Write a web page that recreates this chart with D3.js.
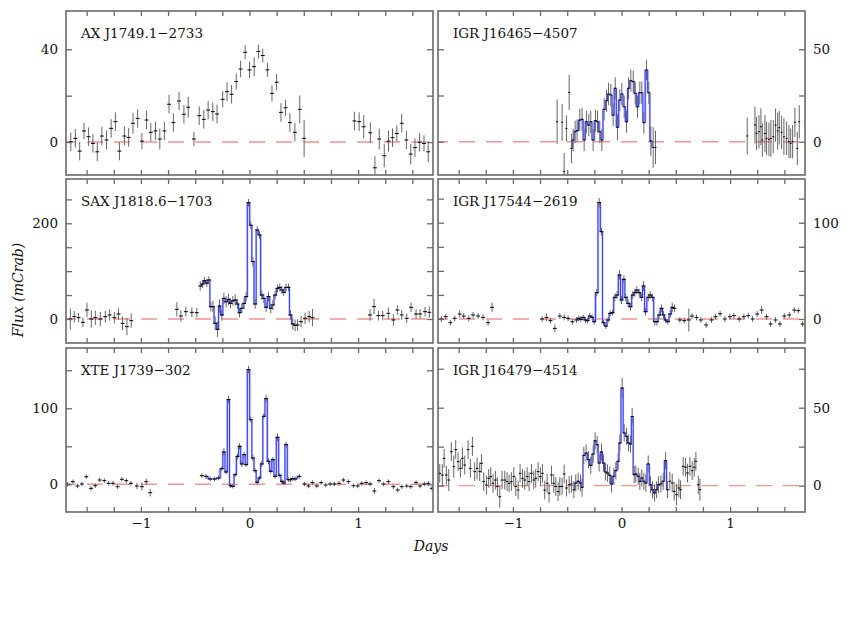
<!DOCTYPE html>
<html><head><meta charset="utf-8">
<script src="https://cdn.jsdelivr.net/npm/d3@7"></script>
<style>body{margin:0;background:#fff}svg{display:block}</style>
</head><body>
<svg id="chart" width="847" height="620"></svg>
<script>
// ---------------- DATA ----------------
const names = ["AX J1749.1\u22122733", "IGR J16465\u22124507", "SAX J1818.6\u22121703",
               "IGR J17544\u22122619", "XTE J1739\u2212302", "IGR J16479\u22124514"];

// AX J1749.1-2733
const axT = [-1.646,-1.604,-1.564,-1.524,-1.482,-1.442,-1.402,-1.360,-1.317,-1.274,-1.235,-1.198,-1.152,-1.113,-1.073,-1.030,-0.991,-0.948,-0.909,-0.866,-0.826,-0.784,-0.741,-0.701,-0.649,-0.604,-0.564,-0.512,-0.463,-0.421,-0.381,-0.338,-0.299,-0.247,-0.207,-0.165,-0.122,-0.082,-0.040,0.000,0.043,0.082,0.122,0.165,0.207,0.250,0.290,0.332,0.372,0.418,0.463,0.503,
  0.966,1.010,1.052,1.113,1.155,1.195,1.241,1.280,1.317,1.357,1.402,1.445,1.485,1.524,1.567,1.607,1.646];
const axF = [0.1,1.6,-3.9,4.8,2.3,-0.6,-4.2,2.6,0.9,5.9,8.8,-3.9,2.6,2.0,8.1,10.2,0.4,9.5,4.2,4.8,1.3,4.8,16.3,8.4,17.7,12.0,15.0,1.3,11.4,9.8,13.8,13.1,12.1,18.4,21.7,20.6,26.1,31.5,38.7,31.1,32.5,39.0,37.3,31.1,21.0,25.8,12.8,14.8,8.4,4.2,14.1,1.6,
  9.1,8.8,6.6,4.0,-11.1,1.3,-5.9,0.4,1.9,3.7,8.1,0.9,-5.2,-2.4,-0.1,-0.6,-4.2];
const axE = [4,4,4,3.5,4,4,4,4,4,4,4,4,4,4,4.5,4,3.5,4,4,4,4.5,4,4,4,4,4,4.5,3,4,4,4,4,4,3.5,4,4,3.5,3.5,3,3.5,4,3,3,3,3.5,3.5,4,3.5,4,4,6,8,
  4,4,5,4.5,5,4.5,5,4.5,4,3.5,4,4,4.5,4,4,3.5,4.5];

// IGR J16465-4507
const j16465T = [-0.593,-0.547,-0.528,-0.507,-0.482,-0.461,-0.445,-0.427,-0.409,-0.384,-0.363,-0.344,-0.323,-0.301,-0.283,-0.261,-0.240,-0.221,-0.200,-0.181,-0.160,-0.138,-0.120,-0.098,-0.077,-0.058,-0.037,-0.015,0.003,0.025,0.046,0.065,0.086,0.108,0.126,0.147,0.169,0.187,0.206,0.230,0.252,0.270,0.292,0.313,
  1.158,1.229,1.244,1.266,1.284,1.297,1.321,1.336,1.358,1.376,1.398,1.419,1.438,1.453,1.475,1.496,1.521,1.542,1.558,1.576,1.597,1.619,1.637];
const j16465F = [10.8,10.5,-16.2,7.2,26.7,-3.6,0.9,5.4,6.0,11.7,12.1,0.9,10.8,9.0,10.8,0.9,11.4,10.8,5.4,0.9,17.5,22.2,25.8,25.3,14.4,28.9,7.8,22.5,25.8,18.9,10.8,28.9,33.0,32.5,26.2,18.9,26.5,26.5,10.3,38.8,26.5,0.4,-3.1,-3.1,
  3.1,9.0,4.5,5.4,8.1,0.9,4.5,1.8,1.3,1.8,2.7,9.0,5.8,7.6,5.1,2.7,1.8,0.0,-0.9,0.0,10.5,-3.6,10.8];
const j16465E = [12,10,10,7,9.5,8,6,6,6,6,6,6,6,6,6,6,6,6,6,6,6,6,6,6,6,6,7,6,6,6,6,6,6,6,6,6,6,6,6,5.5,6,8,11,9,
  10,10,9,9,10,9,10,9,9,10,9,9,10,9,9,10,9,9,8,9,8,9,9];

// SAX J1818.6-1703
const saxT = [-1.650,-1.614,-1.574,-1.534,-1.497,-1.457,-1.420,-1.374,-1.328,-1.288,-1.245,-1.206,-1.169,-1.129,-1.089,
  -0.669,-0.632,-0.586,-0.531,-0.485,
  -0.454,-0.433,-0.414,-0.393,-0.374,-0.356,-0.337,-0.316,-0.294,-0.276,-0.255,-0.236,-0.215,-0.193,-0.175,-0.153,-0.132,-0.110,-0.092,-0.071,-0.049,-0.031,-0.009,0.012,0.031,0.052,0.071,0.092,0.113,0.132,0.153,0.175,0.196,0.215,0.236,0.258,0.279,0.298,0.316,0.337,0.359,0.377,0.399,0.420,0.442,
  0.475,0.512,0.549,0.580,
  1.110,1.147,1.187,1.227,1.279,1.325,1.362,1.402,1.448,1.488,1.534,1.571,1.617,1.656];
const saxF = [0,4.9,2.8,-7.0,18.8,0,2.8,0,4.9,8.4,2.8,10.4,-9.1,-16.0,-3.5,
  20.2,6.3,15.3,13.9,13.2,
  69,73,80,75,81.5,25.8,25.8,-9,-21.6,27,8.4,43,36,41,32.7,38,39.7,31.3,13.2,22.3,32.7,46.7,243,196,120,31.3,186,175.5,50,43,24.4,46.7,22.3,29.3,50,64,66,60.6,55.7,66,66,8.4,-10.4,-13.2,-12.5,
  -5.6,1.4,4.9,2.8,
  8.4,25.8,7.0,7.0,11.8,-2.1,18.8,8.4,1.4,24.4,10.4,10.4,15.3,13.9];
const saxE = [22,12,10,10,15,18,15,15,12,12,12,12,14,18,15,
  15,12,10,10,10,
  10,8,8,8,8,10,12,14,16,14,12,12,12,12,10,10,12,10,10,10,12,10,8,8,10,10,8,8,10,10,10,10,10,10,8,8,8,8,8,8,8,10,12,12,12,
  12,12,12,18,
  12,16,10,10,12,12,10,10,10,10,10,10,10,12];

// IGR J17544-2619
const j17544T = [-1.659,-1.619,-1.576,-1.536,-1.490,-1.453,-1.407,-1.367,-1.321,-1.275,-1.229,-1.192,
  -0.731,-0.691,-0.654,-0.614,-0.568,-0.528,-0.492,-0.452,
  -0.415,-0.393,-0.375,-0.353,-0.332,-0.313,-0.292,-0.270,-0.252,-0.227,-0.206,-0.184,-0.166,-0.144,-0.123,-0.104,-0.083,-0.061,-0.040,-0.018,0.000,0.022,0.040,0.061,0.083,0.104,0.123,0.141,0.163,0.184,0.203,0.221,0.246,0.264,0.286,0.307,0.326,0.347,0.369,0.387,0.406,0.427,0.449,0.467,0.488,
  0.538,0.578,0.620,0.650,0.691,0.731,0.780,0.829,0.866,0.908,0.952,0.998,1.035,1.084,1.127,1.167,1.207,1.250,1.290,1.336,1.373,1.419,1.459,1.499,1.545,1.591,1.628,1.668];
const j17544F = [0,2.4,-3.8,0.7,5.2,3.1,0.7,4.2,3.1,1.7,-3.8,12.1,
  0,1.7,-1.7,-9.7,3.1,1.7,0.7,-2.8,
  -1,0.7,-0.3,1.7,-1,-1.7,3.1,1.7,-2.8,27.4,120.8,90.7,-3.8,-7.3,-1,5.9,6.6,22.5,24.9,45.7,19.7,41.2,22.5,16.3,12.8,24.9,27.4,30.1,27.4,22.5,34.3,7.6,22.5,24.9,22.5,-2.8,-2.8,4.2,11.1,4.2,-1,-2.8,5.2,12.1,11.1,
  -1,-1.7,-1,3.1,1.7,-1,-6.2,-1,2.4,5.5,0,2.4,3.5,0,2.4,3.5,0,5.2,9.3,2.4,-5.2,-1,-5.2,3.1,4.2,9.3,8.7,-5.2];
const j17544E = [3,3,3,3,4,3,3,3,3,3,3,5,
  3,4,3,4,3,3,3,3,
  3,3,3,3,3,3,3,3,3,4,5,4,3,3,3,3,3,4,4,5,4,4,4,4,4,4,4,4,4,4,5,4,4,4,4,4,4,4,4,4,3,3,4,5,4,
  3,3,12,3,3,3,3,3,3,3,3,3,3,3,3,3,3,3,4,3,3,3,3,3,3,3,3,3];

// XTE J1739-302
const xteT = [-1.675,-1.626,-1.583,-1.543,-1.503,-1.460,-1.420,-1.380,-1.337,-1.297,-1.258,-1.215,-1.175,-1.135,-1.092,-1.037,-0.991,-0.951,-0.914,
  -0.439,-0.402,-0.362,-0.322,-0.285,-0.255,-0.236,-0.215,-0.193,-0.175,-0.153,-0.132,-0.110,-0.092,-0.071,-0.049,-0.031,-0.009,0.012,0.031,0.052,0.071,0.092,0.113,0.132,0.153,0.175,0.196,0.215,0.236,0.258,0.279,0.298,0.316,0.337,0.359,0.377,0.399,0.420,0.460,
  0.506,0.543,0.580,0.620,0.660,0.702,0.742,0.782,0.825,0.865,0.911,0.957,0.997,1.034,1.074,1.110,1.150,1.193,1.233,1.279,1.325,1.365,1.402,1.448,1.485,1.534,1.571,1.610,1.647,1.680];
const xteF = [0,3.5,-2.2,0.4,10,-5.3,-1.8,5.7,4.8,1.3,1.3,-3.1,6.6,4.8,1.3,-2.2,-3.1,3.5,-11,
  11.4,10.5,7.0,7.0,8.3,20.6,42.5,16.2,111.4,-1.8,-2.6,12.7,36.8,50,26.8,39,25.9,150.9,85,34.6,18,2.6,8.3,26.8,89.5,112.7,30.3,17.1,32.5,10.5,61.8,11.8,3.9,1.8,52.2,6.1,6.1,7.5,7.0,10.5,
  0.4,-2.2,2.2,-2.2,2.2,-0.9,0.4,0.4,1.3,5.7,3.5,-1.8,-2.2,1.3,2.2,0.4,-8.8,4.8,0.4,3.5,-3.1,-7.5,-3.1,-2.2,-3.1,2.2,-2.2,0.4,1.3,-5.3];
const xteE = [3,3,3,3,3,3,3,3,3,3,3,3,3,3,3,4,5,4,5,
  3,3,3,3,3,3,5,3,5,3,3,3,4,4,4,4,3,5,4,4,3,3,3,4,4,5,4,3,3,3,5,3,3,3,4,3,3,3,3,3,
  3,3,3,3,3,3,3,3,3,3,3,3,3,3,3,3,4,3,3,3,3,3,3,3,3,3,3,3,3,3];

// IGR J16479-4514
const j16479T = [-1.674,-1.650,-1.634,-1.613,-1.591,-1.567,-1.545,-1.527,-1.505,-1.484,-1.465,-1.444,-1.413,-1.392,-1.373,-1.352,-1.330,-1.306,-1.290,-1.269,-1.244,-1.223,-1.204,-1.183,-1.161,-1.143,-1.121,-1.100,-1.075,-1.054,-1.035,-1.014,-0.992,-0.974,-0.952,-0.934,-0.912,-0.891,-0.869,-0.851,-0.829,-0.808,-0.790,-0.768,-0.747,-0.728,-0.707,-0.685,-0.667,-0.645,-0.624,-0.605,-0.584,-0.568,
  -0.547,-0.528,-0.507,-0.482,-0.461,-0.439,-0.421,-0.399,-0.378,-0.363,-0.347,-0.326,-0.304,-0.283,-0.261,-0.243,-0.224,-0.206,-0.184,-0.166,-0.147,-0.129,-0.108,-0.092,-0.071,-0.052,-0.031,-0.015,0.006,0.025,0.046,0.065,0.083,0.098,0.117,0.132,0.154,0.169,0.187,0.206,0.224,0.246,0.267,0.286,0.304,0.323,0.341,0.363,0.384,0.406,0.424,
  0.445,0.467,0.485,0.507,0.528,0.544,0.568,0.590,0.608,0.630,0.651,0.670,0.685,0.707,0.722];
const j16479F = [7.9,6.8,17.5,6.8,3.6,21.8,12.2,23.1,15.4,11.1,17.5,13.2,23.1,11.1,25.2,9.0,11.1,9.0,14.3,2.6,0.4,4.7,5.8,1.5,3.6,-0.6,-7.1,3.6,3.6,2.6,1.5,2.6,5.8,-0.6,-2.8,7.9,4.7,3.6,5.8,2.6,7.9,3.6,4.7,9.0,5.8,7.9,-2.8,1.5,-4.9,6.8,1.5,-0.6,-3.8,-0.6,
  -0.4,7.5,-1.5,0.6,1.1,-2.6,1.7,2.8,1.7,-1.1,19.4,20.9,16.7,13.0,20.3,28.8,26.3,14.5,21.6,14.5,8.8,8.1,6.6,1.1,6.0,9.6,15.6,27.4,62.6,33.8,31.6,27.4,26.7,44.4,7.1,7.5,6.0,2.8,4.9,2.8,1.7,13.9,0.6,-2.6,-4.7,-2.6,0.6,1.1,2.8,16.0,-2.6,
  2.8,1.7,-3.6,-5.8,-1.5,-2.6,12.4,11.8,8.1,12.4,9.6,11.8,15.6,0.6,-2.6];
const j16479E = [6,7,6,6,7,6,7,6,6,6,7,6,6,6,6,6,7,6,6,6,6,6,6,6,6,6,7,6,6,6,5.5,6,6,6,6,6,6,6,6,6,6,6,6,6,6,6,6,6,6,6,6,6,6,6,
  5.5,6,5.5,5.5,5.5,5.5,5.5,5.5,5.5,6,5.5,5.5,5.5,5.5,5.5,5.5,5.5,5.5,5.5,5.5,5.5,5.5,5.5,5.5,5.5,5.5,5.5,5.5,6.5,5.5,5.5,5.5,5.5,5.5,5.5,5.5,5.5,5.5,5.5,5.5,5.5,5.5,5.5,5.5,5.5,5.5,5.5,5.5,5.5,5.5,5.5,
  6,6,6,7,6,6,6,6,6,6,6,6,6,6,7];

const times  = [axT, j16465T, saxT, j17544T, xteT, j16479T];
const fluxes = [axF, j16465F, saxF, j17544F, xteF, j16479F];
const errs   = [axE, j16465E, saxE, j17544E, xteE, j16479E];
const binHalf = [0.018, 0.009, 0.018, 0.018, 0.018, 0.012];           // half bin width (days)
const blueRanges = [null, [-0.47,0.32], [-0.46,0.45], [-0.42,0.49], [-0.41,0.47], [-0.45,0.43]];
const yDomains = [[-14.2,56.5], [-18,70.7], [-50.2,292.6], [-24.9,145.4], [-36.4,179.3], [-16.9,88.3]];
const yTickVals = [[0,20,40], [0,25,50], [0,50,100,150,200,250], [0,25,50,75,100,125], [0,50,100,150], [0,25,50,75]];
const yTickLabels = [[0,40], [0,50], [0,200], [0,100], [0,100], [0,50]];
const xTicks = [-1.5,-1.25,-1,-0.75,-0.5,-0.25,0,0.25,0.5,0.75,1,1.25,1.5];
const xTickLabels = [-1,0,1];
const xDomain = [-1.69, 1.69];

// ---------------- DRAW ----------------
const FONT = "'DejaVu Serif', serif";
const svg = d3.select("#chart");
const L = {cols:[66,438], rows:[11,179,348], w:367, h:164};
const frameColor = "#6a6a6a";

const panels = names.map((name,i)=>({name, t:times[i], f:fluxes[i], e:errs[i], half:binHalf[i],
  yDom:yDomains[i], yTicks:yTickVals[i], yLabels:yTickLabels[i], blue:blueRanges[i], col:i%2, row:Math.floor(i/2)}));

const defs = svg.append("defs");
panels.forEach((p,i)=>{
  const x0 = L.cols[p.col], y0 = L.rows[p.row];
  const x = d3.scaleLinear().domain(xDomain).range([x0, x0+L.w]);
  const y = d3.scaleLinear().domain(p.yDom).range([y0+L.h, y0]);
  defs.append("clipPath").attr("id","clip"+i).append("rect")
    .attr("x",x0).attr("y",y0).attr("width",L.w).attr("height",L.h);
  const g = svg.append("g");
  const dg = g.append("g").attr("clip-path",`url(#clip${i})`);

  dg.append("line").attr("x1",x0).attr("x2",x0+L.w).attr("y1",y(0)).attr("y2",y(0))
    .attr("stroke","#f39393").attr("stroke-width",1.4)
    .attr("stroke-dasharray","16,11").attr("stroke-dashoffset",6);

  const pts = p.t.map((t,k)=>({t, f:p.f[k], e:p.e[k]}));
  if (p.blue) {
    const bp = pts.filter(d=>d.t>=p.blue[0] && d.t<=p.blue[1]);
    dg.selectAll("rect.fillb").data(d3.pairs(bp)).join("rect").attr("class","fillb")
      .attr("x",d=>x(d[0].t)).attr("width",d=>x(d[1].t)-x(d[0].t))
      .attr("y",d=>y(Math.max(d[0].f,d[1].f)))
      .attr("height",d=>Math.abs(y(d[0].f)-y(d[1].f)))
      .attr("fill","#c3c7fb");
    dg.append("path").datum(bp)
      .attr("d", d3.line().x(d=>x(d.t)).y(d=>y(d.f)).curve(d3.curveStep))
      .attr("fill","none").attr("stroke","#3a40f0").attr("stroke-width",1.1);
  }
  dg.selectAll("line.ev").data(pts).join("line").attr("class","ev")
    .attr("x1",d=>x(d.t)).attr("x2",d=>x(d.t))
    .attr("y1",d=>y(d.f-d.e)).attr("y2",d=>y(d.f+d.e))
    .attr("stroke","#666").attr("stroke-width",1);
  dg.selectAll("line.eh").data(pts).join("line").attr("class","eh")
    .attr("x1",d=>x(d.t-p.half)).attr("x2",d=>x(d.t+p.half))
    .attr("y1",d=>y(d.f)).attr("y2",d=>y(d.f))
    .attr("stroke","#000").attr("stroke-width",1);

  const yfmt = d => p.yLabels.includes(d) ? d3.format("d")(d) : "";
  const none = () => "";
  g.append("g").attr("transform",`translate(${x0},0)`)
    .call(d3.axisLeft(y).tickValues(p.yTicks).tickSize(-6).tickPadding(8).tickFormat(p.col===0?yfmt:none));
  g.append("g").attr("transform",`translate(${x0+L.w},0)`)
    .call(d3.axisRight(y).tickValues(p.yTicks).tickSize(-6).tickPadding(8).tickFormat(p.col===1?yfmt:none));
  const xfmt = d => xTickLabels.includes(d) ? d3.format("d")(d) : "";
  g.append("g").attr("transform",`translate(0,${y0+L.h})`)
    .call(d3.axisBottom(x).tickValues(xTicks).tickSize(-5).tickPadding(6).tickFormat(p.row===2?xfmt:none));
  g.append("g").attr("transform",`translate(0,${y0})`)
    .call(d3.axisTop(x).tickValues(xTicks).tickSize(-5).tickFormat(none));

  g.selectAll(".domain").remove();
  g.selectAll(".tick line").attr("stroke",frameColor).attr("stroke-width",1.3);
  g.selectAll(".tick text").attr("font-family",FONT).attr("font-size","13.5px").attr("fill","#111");

  g.append("rect").attr("x",x0).attr("y",y0).attr("width",L.w).attr("height",L.h)
    .attr("fill","none").attr("stroke",frameColor).attr("stroke-width",1.6);

  g.append("text").attr("x",x0+15).attr("y",y0+27).text(p.name)
    .attr("font-family",FONT).attr("font-size","13.5px").attr("fill","#111");
});

svg.append("text").attr("transform","translate(23,290) rotate(-90)").attr("text-anchor","middle")
  .attr("font-family",FONT).attr("font-style","italic").attr("font-size","14px").attr("fill","#111")
  .text("Flux (mCrab)");
svg.append("text").attr("x",431).attr("y",551).attr("text-anchor","middle")
  .attr("font-family",FONT).attr("font-style","italic").attr("font-size","14px").attr("fill","#111")
  .text("Days");
</script>
</body></html>
